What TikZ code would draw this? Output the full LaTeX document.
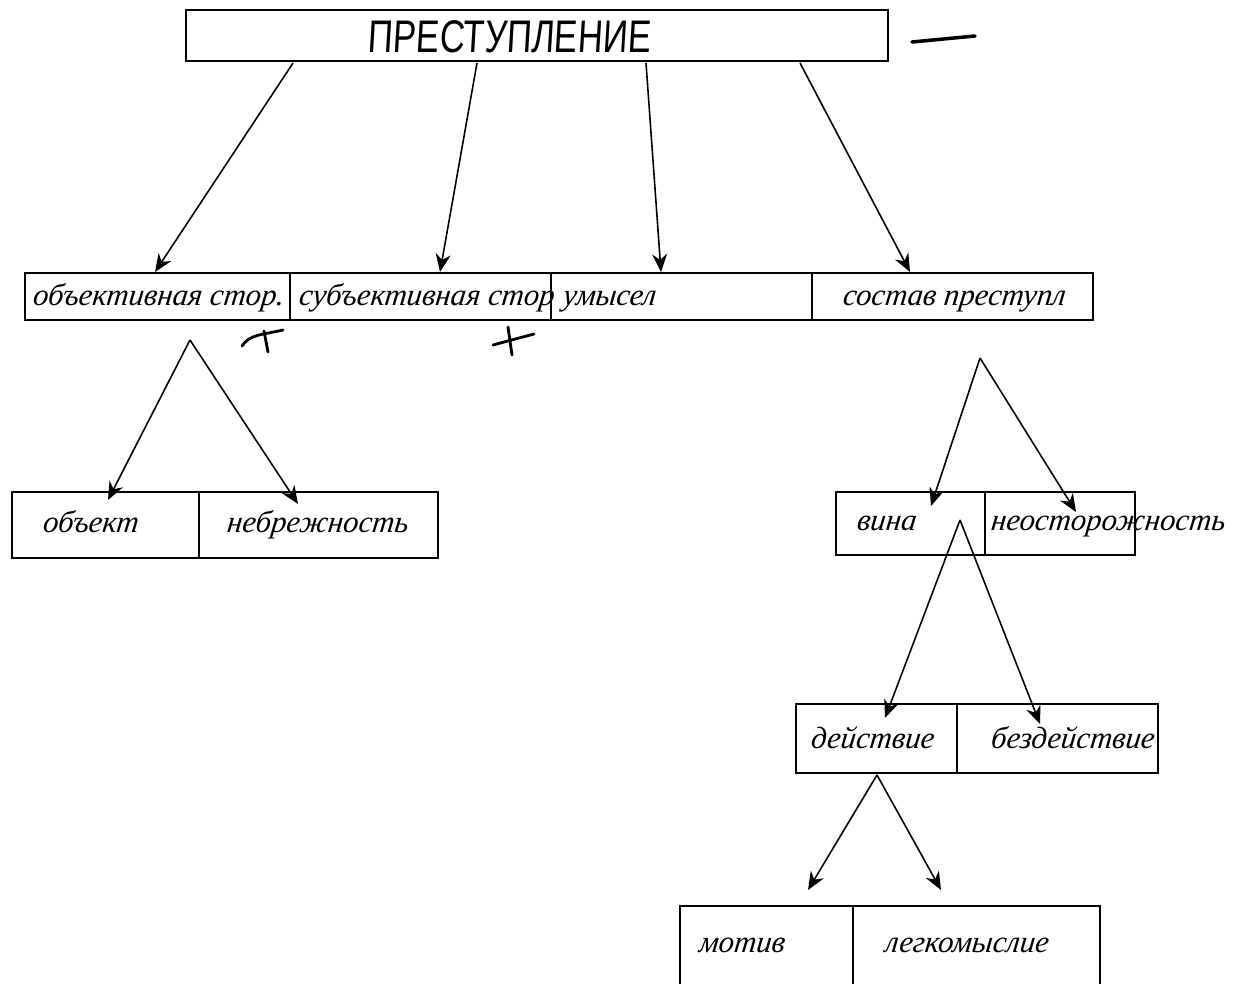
\documentclass[tikz,border=0pt]{standalone}
\usepackage{fontspec}
\setmainfont{Liberation Serif}
\newfontfamily\hand{Liberation Serif}[FakeSlant=0.12]
\newfontfamily\titlefont{Liberation Sans}[FakeStretch=0.76,FakeSlant=0.06]
\usetikzlibrary{arrows.meta}
\newcommand{\cellbox}[5]{%
  \node[cellstyle, minimum width={(#4-#2)*0.02cm}, minimum height={(#5-#3)*0.02cm}]
    (#1) at ({(#2+#4)/2},{(#3+#5)/2}) {};}
\begin{document}
\begin{tikzpicture}[x=0.02cm,y=-0.02cm,
  cellstyle/.style={draw=black, line width=0.9pt, inner sep=0pt, outer sep=0pt},
  lbl/.style={anchor=base west, inner sep=0pt, font=\hand\itshape\fontsize{17.5}{18}\selectfont},
  arr/.style={line width=0.9pt, -{Stealth[length=3.6mm, width=3mm]}},
  stroke/.style={line width=1.6pt, line cap=round}]
\useasboundingbox[fill=white] (0,0) rectangle (1236,983);

% top
\cellbox{top}{186}{10}{888}{61}
\node[anchor=base, inner sep=0pt, font=\titlefont\fontsize{26}{26}\selectfont] (ttl) at (509,53) {ПРЕСТУПЛЕНИЕ};
\coordinate (d1) at (912,42); \coordinate (d2) at (975,36);
\draw[stroke, line width=2pt] (d1) -- (d2);

% row 2
\cellbox{r2a}{25}{273}{290}{320}
\cellbox{r2b}{290}{273}{551}{320}
\cellbox{r2c}{551}{273}{812}{320}
\cellbox{r2d}{812}{273}{1093}{320}
\node[lbl] (t2a) at (32,305) {объективная стор.};
\node[lbl] (t2b) at (298,305) {субъективная стор};
\node[lbl] (t2c) at (562,305) {умысел};
\node[lbl] (t2d) at (842,305) {состав преступл};

% crosses
\coordinate (x1a) at (242,346); \coordinate (x1b) at (283,330);
\coordinate (x1c) at (264,331); \coordinate (x1d) at (268,352);
\draw[stroke] (x1a) .. controls (250,334) and (262,335) .. (x1b);
\draw[stroke] (x1c) -- (x1d);
\coordinate (x2a) at (493,345); \coordinate (x2b) at (534,334);
\coordinate (x2c) at (508,327); \coordinate (x2d) at (512,355);
\draw[stroke] (x2a) -- (x2b);
\draw[stroke] (x2c) -- (x2d);

% arrows top -> row 2
\coordinate (s1) at (293,63); \coordinate (e1) at (155,272);
\coordinate (s2) at (477,63); \coordinate (e2) at (440,272);
\coordinate (s3) at (646,63); \coordinate (e3) at (661,272);
\coordinate (s4) at (800,63); \coordinate (e4) at (910,272);
\draw[arr] (s1) -- (e1);
\draw[arr] (s2) -- (e2);
\draw[arr] (s3) -- (e3);
\draw[arr] (s4) -- (e4);

% row 3 left
\cellbox{r3a}{12}{492}{199}{558}
\cellbox{r3b}{199}{492}{438}{558}
\node[lbl] (t3a) at (42,532) {объект};
\node[lbl] (t3b) at (226,532) {небрежность};
\coordinate (p1) at (190,340);
\coordinate (q1) at (108,500); \coordinate (q2) at (298,504);
\draw[arr] (p1) -- (q1);
\draw[arr] (p1) -- (q2);

% row 3 right
\cellbox{r3c}{836}{492}{985}{555}
\cellbox{r3d}{985}{492}{1135}{555}
\node[lbl] (t3c) at (856,530) {вина};
\node[lbl] (t3d) at (990,530) {неосторожность};
\coordinate (p2) at (980,358);
\coordinate (q3) at (931,506); \coordinate (q4) at (1076,512);
\draw[arr] (p2) -- (q3);
\draw[arr] (p2) -- (q4);

% row 4
\cellbox{r4a}{796}{704}{957}{773}
\cellbox{r4b}{957}{704}{1158}{773}
\node[lbl] (t4a) at (810,748) {действие};
\node[lbl] (t4b) at (990,748) {бездействие};
\coordinate (p3) at (960,520);
\coordinate (q5) at (885,718); \coordinate (q6) at (1040,724);
\draw[arr] (p3) -- (q5);
\draw[arr] (p3) -- (q6);

% row 5
\cellbox{r5a}{680}{906}{853}{990}
\cellbox{r5b}{853}{906}{1100}{990}
\node[lbl] (t5a) at (698,952) {мотив};
\node[lbl] (t5b) at (884,952) {легкомыслие};
\coordinate (p4) at (877,775);
\coordinate (q7) at (808,890); \coordinate (q8) at (941,890);
\draw[arr] (p4) -- (q7);
\draw[arr] (p4) -- (q8);
\end{tikzpicture}
\end{document}
